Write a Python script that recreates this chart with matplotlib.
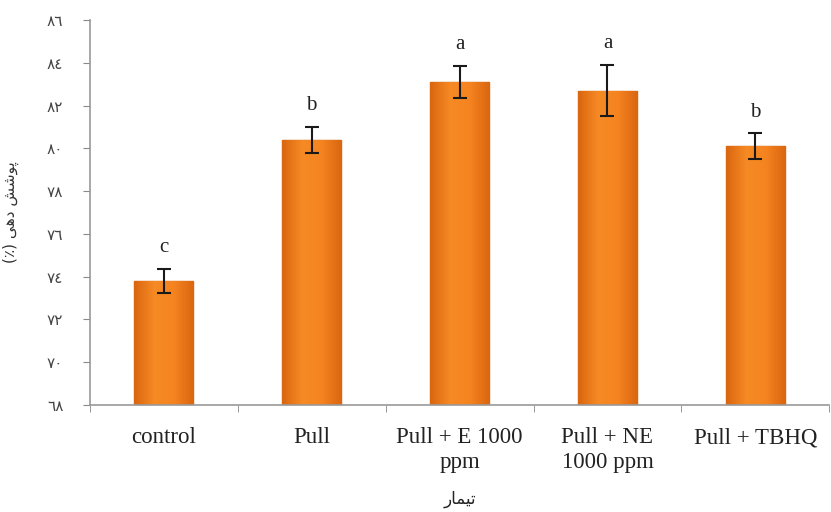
import matplotlib
matplotlib.use('Agg')
import matplotlib.pyplot as plt
from matplotlib.colors import LinearSegmentedColormap
import numpy as np

# Données
categories = ['control', 'Pull', 'Pull + E 1000\nppm', 'Pull + NE\n1000 ppm', 'Pull + TBHQ']
values = [73.8, 80.4, 83.1, 82.7, 80.1]
errors = [0.55, 0.6, 0.75, 1.2, 0.6]
letters = ['c', 'b', 'a', 'a', 'b']
yticks = [68, 70, 72, 74, 76, 78, 80, 82, 84, 86]

# chiffres arabes-indiens pour l'axe y
arabic_digits = str.maketrans('0123456789', '٠١٢٣٤٥٦٧٨٩')
ytick_labels = [str(v).translate(arabic_digits) for v in yticks]

# texte persan déjà mis en forme (ordre visuel)
ylabel = '(٪) ' + '\ufbfd\ufeeb\ufea9' + ' ' + '\ufeb6\ufeb7\ufeee\ufb58'
xlabel = '\ufead\ufe8e\ufee4\ufbff\ufe97'

plt.rcParams['font.family'] = ['Liberation Serif', 'DejaVu Sans']

fig = plt.figure(figsize=(8.31, 5.12), dpi=100)
ax = fig.add_axes([0.108, 0.209, 0.89, 0.752])

x = np.arange(len(categories))
bars = ax.bar(x, values, width=0.4, color='#F27C1E', edgecolor='#D0620F', linewidth=1.0,
              zorder=2)

# dégradé horizontal sur chaque barre
cmap = LinearSegmentedColormap.from_list('orange', ['#DA6610', '#F68A24', '#F58420', '#DA6610'])
grad = np.linspace(0, 1, 100).reshape(1, -1)
for b in bars:
    x0, w, h = b.get_x(), b.get_width(), b.get_height()
    im = ax.imshow(grad, cmap=cmap, aspect='auto', extent=[x0, x0 + w, 68, h],
                   zorder=2.1, interpolation='bicubic')
    im.set_clip_path(b)

ax.errorbar(x, values, yerr=errors, fmt='none', ecolor='#1a1a1a', elinewidth=1.5,
            capsize=5, capthick=1.5, zorder=3)

for xi, v, e, l in zip(x, values, errors, letters):
    ax.text(xi, v + e + 0.55, l, ha='center', va='bottom', fontsize=15, color='#222222')

ax.set_ylim(68, 86)
ax.set_xlim(-0.5, len(categories) - 0.5)
ax.set_yticks(yticks)
ax.set_yticklabels(ytick_labels, fontsize=11, color='#444444', family=['DejaVu Sans'])
ax.set_xticks(x)
ax.set_xticklabels(categories, fontsize=16.5, linespacing=1.25, color='#222222')
ax.set_xticks(np.arange(len(categories) + 1) - 0.5, minor=True)
ax.tick_params(axis='x', which='major', length=0, pad=16)
ax.tick_params(axis='x', which='minor', length=5, color='#888888', direction='out')
ax.tick_params(axis='y', length=5, color='#888888', direction='out', pad=14)

for s in ['top', 'right']:
    ax.spines[s].set_visible(False)
for s in ['left', 'bottom']:
    ax.spines[s].set_color('#999999')
    ax.spines[s].set_linewidth(1.2)

ax.set_ylabel(ylabel, fontsize=11, family=['DejaVu Sans'], color='#333333')
ax.set_xlabel(xlabel, fontsize=12, family=['DejaVu Sans'], color='#222222')
ax.xaxis.set_label_coords(0.5, -0.22)
ax.yaxis.set_label_coords(-0.095, 0.5)

plt.savefig('out.png', dpi=100)
